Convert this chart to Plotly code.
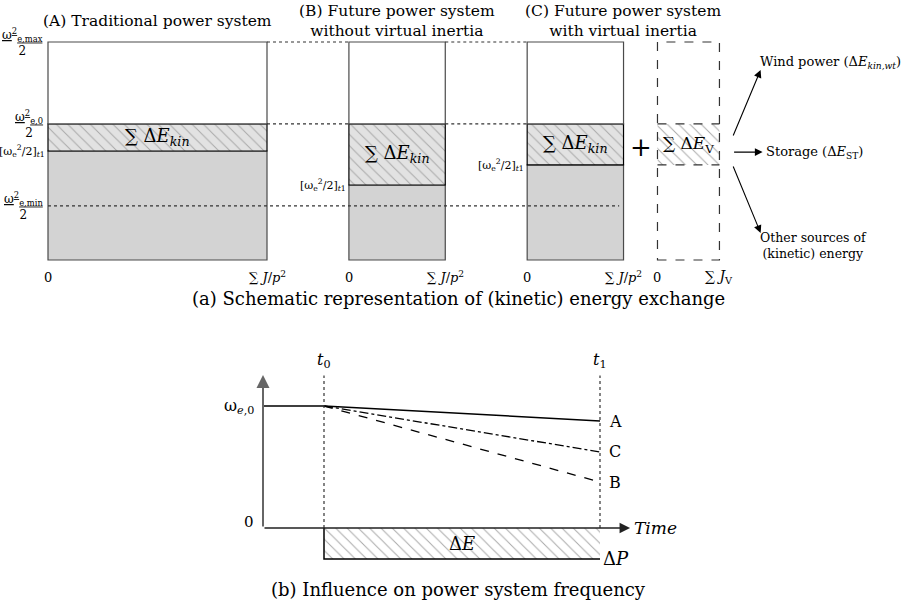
import plotly.graph_objects as go

# ---------------- panel (a) data ----------------
system_titles = ["(A) Traditional power system",
                 "(B) Future power system<br>without virtual inertia",
                 "(C) Future power system<br>with virtual inertia"]
inertia = [1.0, 0.44, 0.44]          # sum J/p^2 (normalised)
level_t1 = [0.50, 0.344, 0.436]      # [w_e^2/2]_t1 (normalised)
level_max = 1.0                      # w_e,max^2/2
level_0 = 0.624                      # w_e,0^2/2
level_min = 0.248                    # w_e,min^2/2
virtual_inertia = 0.283              # sum J_V
virtual_level_t1 = 0.436
source_labels = ["Wind power (Δ<i>E</i><sub><i>kin,wt</i></sub>)",
                 "Storage (Δ<i>E</i><sub>ST</sub>)",
                 "Other sources of<br>(kinetic) energy"]

# ---------------- panel (b) data ----------------
time_pts = [-0.221, 0.0, 1.0]        # axis start, t0, t1
freq_A = [1.0, 1.0, 0.877]
freq_C = [1.0, 0.623]
freq_B = [1.0, 0.377]
delta_P = -0.254
curve_labels = ["A", "C", "B"]

# ---------------- layout helpers ----------------
W, H = 917, 607
GAP = 0.374
VGAP = 0.155
FONT = "DejaVu Serif"
BOX = "#4a4a4a"
lefts = [0.0]
for w in inertia[:-1]:
    lefts.append(lefts[-1] + w + GAP)
v_left = lefts[-1] + inertia[-1] + VGAP
v_right = v_left + virtual_inertia

fig = go.Figure()
shapes = []
ann = []

def txt(x, y, text, size=13, xanchor="center", yanchor="middle", xref="x", yref="y", align="center"):
    ann.append(dict(x=x, y=y, xref=xref, yref=yref, text=text, showarrow=False,
                    xanchor=xanchor, yanchor=yanchor, align=align,
                    font=dict(family=FONT, size=size, color="black")))

hatch = dict(shape="\\", size=8, solidity=0.12, fillmode="replace")

for i, (x0, w, t1) in enumerate(zip(lefts, inertia, level_t1)):
    xc = x0 + w / 2
    fig.add_trace(go.Bar(x=[xc], y=[t1], base=[0], width=[w], xaxis="x", yaxis="y",
                         marker=dict(color="#d3d3d3", line=dict(color=BOX, width=1.2)),
                         hoverinfo="skip", showlegend=False))
    fig.add_trace(go.Bar(x=[xc], y=[level_0 - t1], base=[t1], width=[w], xaxis="x", yaxis="y",
                         marker=dict(color="#e2e2e2", line=dict(color="black", width=1.2),
                                     pattern=dict(bgcolor="#e2e2e2", fgcolor="#a8a8a8", **hatch)),
                         hoverinfo="skip", showlegend=False))
    fig.add_trace(go.Bar(x=[xc], y=[level_max - level_0], base=[level_0], width=[w], xaxis="x", yaxis="y",
                         marker=dict(color="white", line=dict(color=BOX, width=1.2)),
                         hoverinfo="skip", showlegend=False))
    txt(xc, (level_0 + t1) / 2, "∑ Δ<i>E</i><sub><i>kin</i></sub>", size=18)
    txt(x0, -0.08, "0", size=13)
    txt(x0 + w, -0.08, "∑ <i>J</i>/<i>p</i><sup>2</sup>", size=13)
    if i > 0:
        txt(x0 - 0.006, t1, "[ω<sub>e</sub><sup>2</sup>/2]<sub><i>t</i>1</sub>", size=11, xanchor="right")

title_x = [lefts[0] + inertia[0] / 2, lefts[1] + inertia[1] / 2, (lefts[2] + v_right) / 2]
for tx, tt in zip(title_x, system_titles):
    txt(tx, 1.098, tt, size=15.5)

fig.add_trace(go.Bar(x=[(v_left + v_right) / 2], y=[level_0 - virtual_level_t1], base=[virtual_level_t1],
                     width=[virtual_inertia], xaxis="x", yaxis="y",
                     marker=dict(color="white", line=dict(width=0),
                                 pattern=dict(bgcolor="white", fgcolor="#a8a8a8", **hatch)),
                     hoverinfo="skip", showlegend=False))
shapes.append(dict(type="rect", xref="x", yref="y", x0=v_left, x1=v_right, y0=0, y1=level_max,
                   line=dict(color="#333", width=1.2, dash="dash")))
for lv in (level_0, virtual_level_t1):
    shapes.append(dict(type="line", xref="x", yref="y", x0=v_left, x1=v_right, y0=lv, y1=lv,
                       line=dict(color="#333", width=1.2, dash="dash")))
txt((v_left + v_right) / 2, (level_0 + virtual_level_t1) / 2, "∑ Δ<i>E</i><sub>V</sub>", size=17)
txt(v_left, -0.08, "0", size=13)
txt(v_right, -0.08, "∑ <i>J</i><sub>V</sub>", size=14)
txt((lefts[2] + inertia[2] + v_left) / 2, (level_0 + virtual_level_t1) / 2 - 0.01, "+", size=26)

for lv in (level_max, level_0):
    for k in range(2):
        shapes.append(dict(type="line", xref="x", yref="y", x0=lefts[k] + inertia[k], x1=lefts[k + 1],
                           y0=lv, y1=lv, line=dict(color="#333", width=1.2, dash="dot")))
shapes.append(dict(type="line", xref="x", yref="y", x0=0, x1=lefts[2] + inertia[2] - 0.02,
                   y0=level_min, y1=level_min, line=dict(color="#333", width=1.2, dash="dot")))

txt(-0.015, level_max, "<u>ω<sup>2</sup><sub>e,max</sub></u><br>2", size=12, xanchor="right")
txt(-0.015, level_0, "<u>ω<sup>2</sup><sub>e,0</sub></u><br>2", size=12, xanchor="right")
txt(-0.005, level_t1[0], "[ω<sub>e</sub><sup>2</sup>/2]<sub><i>t</i>1</sub>", size=11, xanchor="right")
txt(-0.015, level_min, "<u>ω<sup>2</sup><sub>e,min</sub></u><br>2", size=12, xanchor="right")

ax0 = v_right + 0.06
ends = [(ax0 + 0.128, 0.872), (ax0 + 0.137, 0.495), (ax0 + 0.128, 0.124)]
starts = [(ax0, 0.564), (ax0, 0.495), (ax0, 0.436)]
for (sx, sy), (ex, ey) in zip(starts, ends):
    ann.append(dict(x=ex, y=ey, ax=sx, ay=sy, xref="x", yref="y", axref="x", ayref="y",
                    text="", showarrow=True, arrowhead=2, arrowsize=1.4, arrowwidth=1.1,
                    arrowcolor="black"))
txt(ends[0][0] - 0.01, 0.905, source_labels[0], size=13, xanchor="left")
txt(ends[1][0] + 0.005, 0.495, source_labels[1], size=13, xanchor="left")
txt(ends[2][0] + 0.24, 0.065, source_labels[2], size=12.5)

txt(0.5, (H - 298) / H, "(a) Schematic representation of (kinetic) energy exchange",
    size=18, xref="paper", yref="paper")

# ---------------- panel (b) ----------------
t_start, t0, t1 = time_pts
fig.add_trace(go.Bar(x=[(t0 + t1) / 2], y=[-delta_P], base=[delta_P], width=[t1 - t0],
                     xaxis="x2", yaxis="y2",
                     marker=dict(color="white", line=dict(width=0),
                                 pattern=dict(bgcolor="white", fgcolor="#a8a8a8", **hatch)),
                     hoverinfo="skip", showlegend=False))
fig.add_trace(go.Scatter(x=time_pts, y=freq_A, mode="lines", xaxis="x2", yaxis="y2",
                         line=dict(color="black", width=1.5), hoverinfo="skip", showlegend=False))
fig.add_trace(go.Scatter(x=[t0, t1], y=freq_C, mode="lines", xaxis="x2", yaxis="y2",
                         line=dict(color="black", width=1.3, dash="dashdot"), hoverinfo="skip", showlegend=False))
fig.add_trace(go.Scatter(x=[t0, t1], y=freq_B, mode="lines", xaxis="x2", yaxis="y2",
                         line=dict(color="black", width=1.3, dash="dash"), hoverinfo="skip", showlegend=False))
fig.add_trace(go.Scatter(x=[t0, t0, t1], y=[0, delta_P, delta_P], mode="lines", xaxis="x2", yaxis="y2",
                         line=dict(color="black", width=1.5), hoverinfo="skip", showlegend=False))

for tv in (t0, t1):
    shapes.append(dict(type="line", xref="x2", yref="y2", x0=tv, x1=tv, y0=0, y1=1.25,
                       line=dict(color="#333", width=1.2, dash="dot")))
ann.append(dict(x=t_start, y=1.254, ax=t_start, ay=0, xref="x2", yref="y2", axref="x2", ayref="y2",
                text="", showarrow=True, arrowhead=2, arrowsize=1.3, arrowwidth=2, arrowcolor="#666"))
ann.append(dict(x=1.109, y=0, ax=t_start, ay=0, xref="x2", yref="y2", axref="x2", ayref="y2",
                text="", showarrow=True, arrowhead=2, arrowsize=1.4, arrowwidth=1.5, arrowcolor="#222"))

txt(t0, 1.377, "<i>t</i><sub>0</sub>", size=16, xref="x2", yref="y2")
txt(t1, 1.377, "<i>t</i><sub>1</sub>", size=16, xref="x2", yref="y2")
txt(-0.245, 1.0, "ω<sub><i>e</i>,0</sub>", size=16, xanchor="right", xref="x2", yref="y2")
txt(-0.245, 0.05, "0", size=15, xanchor="right", xref="x2", yref="y2")
for lab, yv in zip(curve_labels, [freq_A[-1], freq_C[-1], freq_B[-1]]):
    txt(t1 + 0.025, yv, lab, size=16, xanchor="left", xref="x2", yref="y2")
txt(1.115, 0, "<i>Time</i>", size=17, xanchor="left", xref="x2", yref="y2")
txt((t0 + t1) / 2, delta_P / 2, "Δ<i>E</i>", size=18, xref="x2", yref="y2")
txt(t1 + 0.005, delta_P, "Δ<i>P</i>", size=18, xanchor="left", xref="x2", yref="y2")

txt(0.5, (H - 589) / H, "(b) Influence on power system frequency",
    size=18, xref="paper", yref="paper")

PXA, X0A, PYA, Y0A = 219, 48, 218, 260
PXB, X0B, PYB, Y0B = 276, 324, 122, 528
hidden = dict(visible=False, showgrid=False, zeroline=False, fixedrange=True)
fig.update_layout(
    width=W, height=H, autosize=False,
    margin=dict(l=0, r=0, t=0, b=0),
    paper_bgcolor="white", plot_bgcolor="rgba(0,0,0,0)",
    barmode="overlay", showlegend=False,
    xaxis=dict(domain=[0, 1], range=[-X0A / PXA, (W - X0A) / PXA], anchor="y", **hidden),
    yaxis=dict(domain=[0, 1], range=[(Y0A - H) / PYA, Y0A / PYA], anchor="x", **hidden),
    xaxis2=dict(domain=[0, 1], range=[-X0B / PXB, (W - X0B) / PXB], anchor="y2", **hidden),
    yaxis2=dict(domain=[0, 1], range=[(Y0B - H) / PYB, Y0B / PYB], anchor="x2", **hidden),
    shapes=shapes, annotations=ann,
    font=dict(family=FONT, color="black"),
)
fig.write_html("out.html")
